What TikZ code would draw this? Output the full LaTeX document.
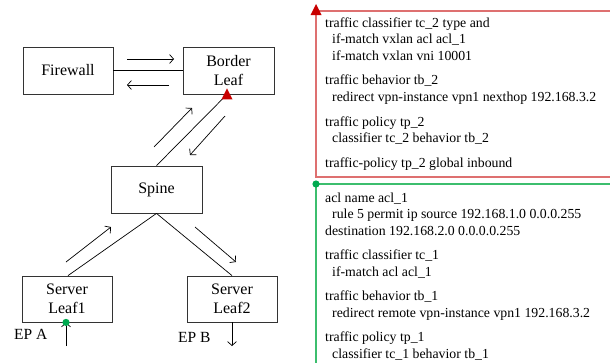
\documentclass[tikz,border=0pt]{standalone}
\usepackage{fontspec}
\setmainfont{Liberation Serif}
\usetikzlibrary{arrows.meta}
\definecolor{rline}{RGB}{222,112,112}
\definecolor{rtip}{RGB}{200,0,0}
\definecolor{gline}{RGB}{60,190,110}
\definecolor{gdot}{RGB}{0,170,80}
\begin{document}
\begin{tikzpicture}[x=1pt,y=-1pt,
  box/.style={draw=black!80,line width=0.8pt,minimum width=90pt,minimum height=47pt,inner sep=0pt,align=center,
    font=\fontsize{16}{18.5}\selectfont},
  conn/.style={line width=0.7pt},
  flow/.style={line width=0.7pt,-{Straight Barb[length=4pt,width=9pt]}},
  cfg/.style={anchor=base west,inner sep=0pt,font=\fontsize{13.8}{16}\selectfont},
  eplabel/.style={anchor=base west,inner sep=0pt,font=\fontsize{15.5}{18}\selectfont}]
\useasboundingbox (0,0) rectangle (610,362);
% nodes
\node[box] (fw) at (68,70.5) {Firewall};
\node[box,minimum width=91pt] (bl) at (228.5,70.5) {Border\\Leaf};
\node[box,minimum width=91pt] (sp) at (156.5,189.5) {Spine};
\node[box,minimum height=46pt] (l1) at (67,299) {Server\\Leaf1};
\node[box,minimum height=46pt] (l2) at (232,299) {Server\\Leaf2};
% links
\draw[conn] (fw.east) -- (bl.west);
\draw[conn] (sp.north) -- ([xshift=-1.5pt]bl.south);
\draw[conn] (sp.south) -- ([xshift=1pt]l1.north);
\draw[conn] (sp.south) -- (l2.north);
% flow arrows
\coordinate (a1s) at (127,59);  \coordinate (a1e) at (174,59);
\coordinate (a2s) at (169,85);  \coordinate (a2e) at (127,85);
\coordinate (a3s) at (154,147); \coordinate (a3e) at (192,108);
\coordinate (a4s) at (225,116); \coordinate (a4e) at (190,155);
\coordinate (a5s) at (66,262);  \coordinate (a5e) at (111,227);
\coordinate (a6s) at (195,227); \coordinate (a6e) at (236,262);
\coordinate (a7s) at (66,346);
\coordinate (a8e) at (232,346);
\draw[flow] (a1s) -- (a1e);
\draw[flow] (a2s) -- (a2e);
\draw[flow] (a3s) -- (a3e);
\draw[flow] (a4s) -- (a4e);
\draw[flow] (a5s) -- (a5e);
\draw[flow] (a6s) -- (a6e);
\draw[flow] (a7s) -- ([xshift=-1pt]l1.south);
\draw[flow] (l2.south) -- (a8e);
\node[eplabel] (epa) at (14,339) {EP A};
\node[eplabel] (epb) at (178,342) {EP B};
% markers
\fill[rtip] ([xshift=-1.5pt,yshift=-5pt]bl.south) -- ++(5.5,0) -- ++(-5.5,-11) -- ++(-5.5,11) -- cycle;
\fill[gdot] ([xshift=-1pt]l1.south) circle (3.6pt);
% red config box
\coordinate (rtl) at (316,11);
\coordinate (rbl) at (316,177);
\draw[rline,line width=1.5pt] (612,177) -- (rbl) -- (rtl) -- (612,11);
\coordinate (rtp) at (316,4);
\fill[rtip] (rtp) -- ++(5.5,11) -- ++(-11,0) -- cycle;
% green config box
\coordinate (gtl) at (316,184);
\draw[gline,line width=1.5pt] (316,364) -- (gtl) -- (612,184);
\fill[gdot] (gtl) circle (3.6pt);
% config text
\foreach \n/\x/\y/\t in {
  r1/325/27/{traffic classifier tc\_2 type and},
  r2/332/43.5/{if-match vxlan acl acl\_1},
  r3/332/60/{if-match vxlan vni 10001},
  r4/325/84.5/{traffic behavior tb\_2},
  r5/332/101/{redirect vpn-instance vpn1 nexthop 192.168.3.2},
  r6/325/126/{traffic policy tp\_2},
  r7/332/142.5/{classifier tc\_2 behavior tb\_2},
  r8/325/167/{traffic-policy tp\_2 global inbound},
  g1/325/202/{acl name acl\_1},
  g2/332/218.5/{rule 5 permit ip source 192.168.1.0 0.0.0.255},
  g3/325/235/{destination 192.168.2.0 0.0.0.0.255},
  g4/325/259.5/{traffic classifier tc\_1},
  g5/332/276/{if-match acl acl\_1},
  g6/325/300.5/{traffic behavior tb\_1},
  g7/332/317/{redirect remote vpn-instance vpn1 192.168.3.2},
  g8/325/341.5/{traffic policy tp\_1},
  g9/332/358/{classifier tc\_1 behavior tb\_1}}
  \node[cfg] (\n) at (\x,\y) {\t};
\end{tikzpicture}
\end{document}
